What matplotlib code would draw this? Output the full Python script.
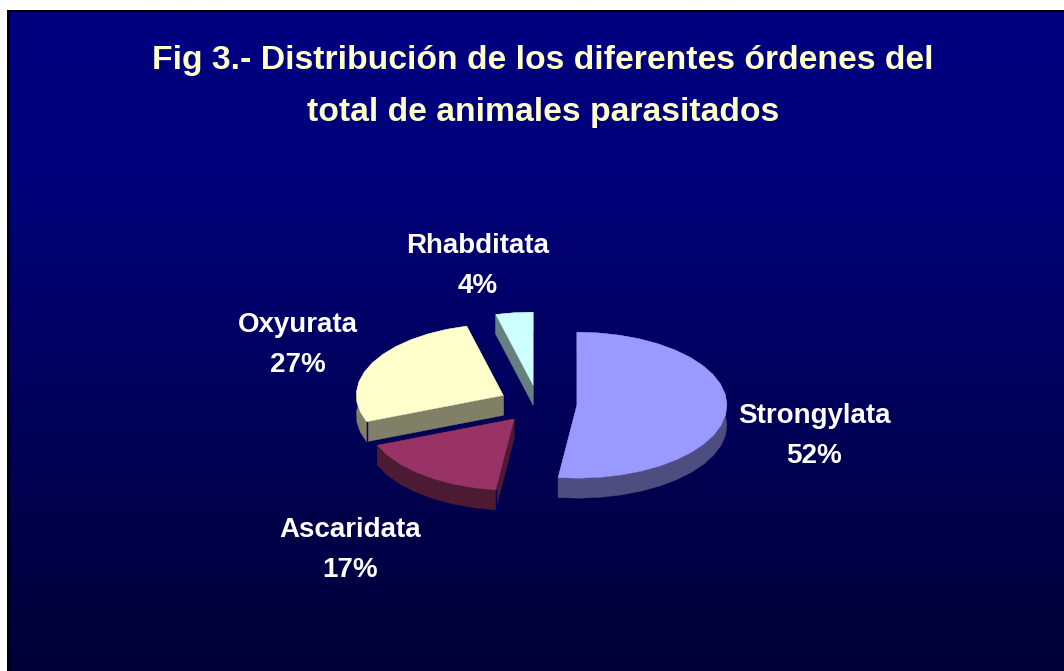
import numpy as np
import matplotlib
matplotlib.use("Agg")
import matplotlib.pyplot as plt
from matplotlib.patches import Polygon, Rectangle

# ---- data ----
categories = ["Strongylata", "Ascaridata", "Oxyurata", "Rhabditata"]
percentages = [52, 17, 27, 4]
top_colors = ["#9999FF", "#993366", "#FFFFCC", "#CCFFFF"]
side_colors = ["#4D4D80", "#4D1A33", "#808066", "#668080"]
radius_scale = [1.0, 0.98, 0.98, 1.0]
title_lines = ["Fig 3.- Distribución de los diferentes órdenes del",
               "total de animales parasitados"]

W, H = 1064, 671
CX, CY, RX, RY, DEPTH, EXPLODE = 538, 404, 150, 73, 20, 0.26
NAVY = "#00006A"

plt.rcParams["font.family"] = ["Liberation Sans", "DejaVu Sans"]
fig = plt.figure(figsize=(W / 100, H / 100), dpi=100, facecolor="white")
ax = fig.add_axes([0, 0, 1, 1])
ax.set_xlim(0, W)
ax.set_ylim(H, 0)
ax.axis("off")

# background: frame and navy gradient
ax.add_patch(Rectangle((7, 9.5), W, H, fc="black", ec="none", zorder=0))
grad = np.zeros((256, 1, 3))
t = np.linspace(0, 1, 256)
grad[:, 0, 2] = np.clip(np.interp(t, [0, 0.25, 1], [128, 122, 54]) / 255, 0, 1)
ax.imshow(grad, extent=[9.5, W, H, 12], aspect="auto", zorder=0.5, interpolation="bilinear")
ax.set_xlim(0, W)
ax.set_ylim(H, 0)

# exploded oblique pie built from the shares
total = sum(percentages)
start = 0.0
wedges = []
for value, scale in zip(percentages, radius_scale):
    sweep = 360.0 * value / total
    mid = np.radians(start + sweep / 2)
    ax0 = CX + EXPLODE * RX * np.sin(mid)
    ay0 = CY - EXPLODE * RY * np.cos(mid)
    ang = np.radians(np.linspace(start, start + sweep, max(int(sweep / 8), 2) + 1))
    xs = ax0 + RX * scale * np.sin(ang)
    ys = ay0 - RY * scale * np.cos(ang)
    wedges.append((ax0, ay0, xs, ys))
    start += sweep

draw_order = [3, 0, 2, 1]
for z, i in enumerate(draw_order):
    ax0, ay0, xs, ys = wedges[i]
    zo = 2 + z
    # outer wall
    wall = np.column_stack([np.r_[xs, xs[::-1]],
                            np.r_[ys, ys[::-1] + DEPTH]])
    ax.add_patch(Polygon(wall, closed=True, fc=side_colors[i], ec=side_colors[i], lw=0.3, zorder=zo))
    # cut faces
    for px, py in ((xs[0], ys[0]), (xs[-1], ys[-1])):
        face = [(ax0, ay0), (px, py), (px, py + DEPTH), (ax0, ay0 + DEPTH)]
        ax.add_patch(Polygon(face, closed=True, fc=side_colors[i], ec=side_colors[i], lw=0.3, zorder=zo))
    # thin seam where cut face meets the outer wall
    if i in (1, 2):
        ax.plot([xs[0], xs[0]], [ys[0], ys[0] + DEPTH], color=NAVY, lw=1, zorder=zo + 0.2)
    # top face
    top = np.column_stack([np.r_[ax0, xs], np.r_[ay0, ys]])
    ax.add_patch(Polygon(top, closed=True, fc=top_colors[i], ec=top_colors[i], lw=0.3, zorder=zo + 0.5))

# labels
label_pos = [(814, 436), (350, 550), (298, 345), (478, 266)]
for name, pct, (x, y) in zip(categories, percentages, label_pos):
    ax.text(x, y, f"{name}\n{pct}%", color="white", fontsize=20, fontweight="bold",
            ha="center", va="center", linespacing=1.68, zorder=10)

# title
ax.text(543, 61, title_lines[0], color="#FFFFCC", fontsize=24.3, fontweight="bold",
        ha="center", va="center", zorder=10)
ax.text(543, 112, title_lines[1], color="#FFFFCC", fontsize=24.3, fontweight="bold",
        ha="center", va="center", zorder=10)

fig.savefig("out.png", dpi=100, facecolor="white")
